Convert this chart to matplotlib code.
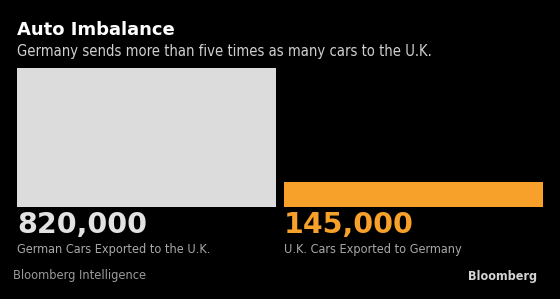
import matplotlib
matplotlib.use("Agg")
import matplotlib.pyplot as plt

categories = ["German Cars Exported to the U.K.", "U.K. Cars Exported to Germany"]
values = [820000, 145000]
colors = ["#dcdcdc", "#f7a02a"]
num_colors = ["#e2e2e2", "#f7a02a"]
title = "Auto Imbalance"
subtitle = "Germany sends more than five times as many cars to the U.K."
source = "Bloomberg Intelligence"
brand = "Bloomberg"

W, H = 560, 299
fig = plt.figure(figsize=(W / 100, H / 100), dpi=100, facecolor="black")

def fx(px):
    return px / W

def fy(py):
    return 1 - py / H

left, right, top, bottom = 17, 543, 68, 207
ax = fig.add_axes([fx(left), fy(bottom), (right - left) / W, (bottom - top) / H])
ax.set_facecolor("black")
w = 259 / 267
xs = list(range(len(values)))
ax.bar(xs, values, width=w, color=colors, edgecolor="none")
ax.set_xlim(-w / 2, len(values) - 1 + w / 2)
ax.set_ylim(0, max(values))
ax.axis("off")

fam = "DejaVu Sans"
fig.text(fx(17), fy(35), title, color="white", fontsize=13, fontweight="bold",
         family=fam, va="baseline", ha="left")
fig.text(fx(17), fy(56), subtitle, color="#d0d0d0", fontsize=10.6, stretch="condensed",
         family=fam, va="baseline", ha="left")

for i, (cat, v) in enumerate(zip(categories, values)):
    xl = ax.transData.transform((i - w / 2, 0))[0]
    xfig = fig.transFigure.inverted().transform((xl, 0))[0]
    fig.text(xfig, fy(233), f"{v:,}", color=num_colors[i], fontsize=20.5,
             fontweight="bold", family=fam, va="baseline", ha="left")
    fig.text(xfig, fy(253), cat, color="#a8a8a8", fontsize=9.1, stretch="condensed",
             family=fam, va="baseline", ha="left")

fig.text(fx(13), fy(279), source, color="#9a9a9a", fontsize=9.2, stretch="condensed",
         family=fam, va="baseline", ha="left")
fig.text(fx(537), fy(280), brand, color="#d4d4d4", fontsize=9.0, fontweight="bold",
         stretch="condensed", family=fam, va="baseline", ha="right")

fig.savefig("out.png", dpi=100, facecolor="black")
